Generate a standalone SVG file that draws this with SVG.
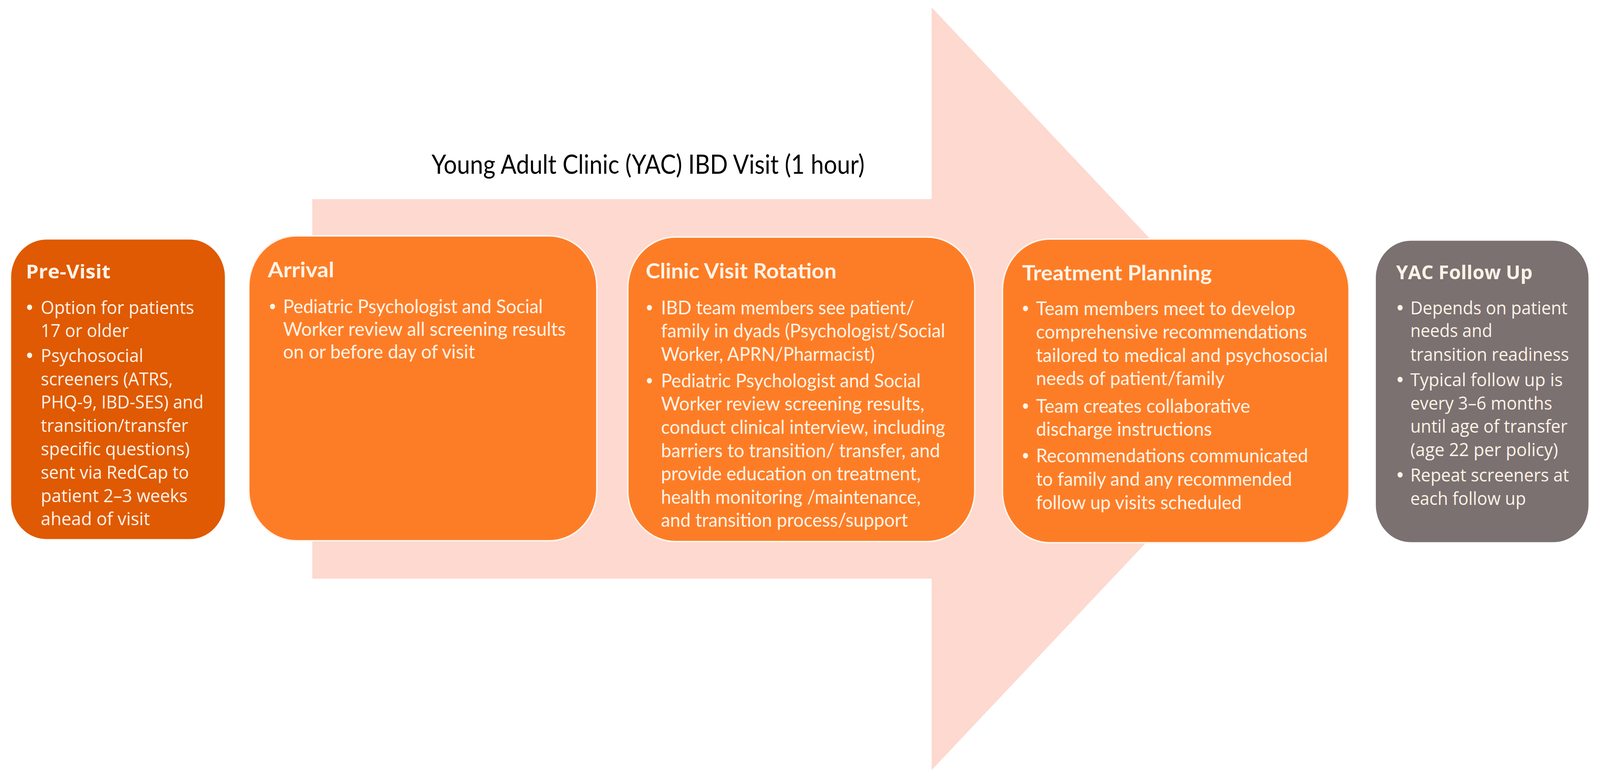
<svg xmlns="http://www.w3.org/2000/svg" width="4386" height="1995" viewBox="0 0 4386 1995" preserveAspectRatio="none">
<style>
svg{width:100vw;height:100vh;display:block}
.bg{fill:#ffffff}
.arrow{fill:#FDD9CF}
.orange{fill:#FD7D27;stroke:#FFF3EC;stroke-width:4}
.dark{fill:#DF5A03;stroke:#FFFFFF;stroke-width:3}
.grey{fill:#7B7171;stroke:#FFFFFF;stroke-width:3}
.cal{font-family:Lato,"Liberation Sans",sans-serif;font-size:48px;fill:#FFF4E8}
.calb{font-family:Lato,"Liberation Sans",sans-serif;font-size:53px;font-weight:bold;fill:#FFF4E8}
.seg{font-family:"Open Sans","Noto Sans","Liberation Sans",sans-serif;font-size:45px;fill:#FFF2E6}
.segb{font-family:"Open Sans","Noto Sans","Liberation Sans",sans-serif;font-size:49px;font-weight:bold;fill:#FFF2E6}
.bul{font-family:"Liberation Sans",sans-serif;font-size:52px;fill:#FFF4E8}
.ttl{font-family:Lato,"Liberation Sans",sans-serif;font-size:68px;fill:#000000}
</style>
<rect class="bg" x="0" y="0" width="4386" height="1995"/>
<g id="connectors">
<polygon class="arrow" points="856,510 2554,510 2554,19 3540,995 2554,1972 2554,1482 856,1482"/>
</g>
<g id="title">
<text class="ttl" x="1183" y="445" textLength="1187" lengthAdjust="spacingAndGlyphs">Young Adult Clinic (YAC) IBD Visit (1 hour)</text>
</g>
<g id="pre-visit">
<rect class="dark" x="29" y="612" width="589" height="770" rx="98" ry="98"/>
<text class="segb" x="71" y="713" textLength="232" lengthAdjust="spacingAndGlyphs">Pre-Visit</text>
<text class="bul" x="72" y="804">•</text>
<text class="bul" x="72" y="927">•</text>
<text class="seg" x="112" y="804" textLength="420" lengthAdjust="spacingAndGlyphs">Option for patients</text>
<text class="seg" x="112" y="863" textLength="241" lengthAdjust="spacingAndGlyphs">17 or older</text>
<text class="seg" x="112" y="927" textLength="281" lengthAdjust="spacingAndGlyphs">Psychosocial</text>
<text class="seg" x="112" y="987" textLength="362" lengthAdjust="spacingAndGlyphs">screeners (ATRS,</text>
<text class="seg" x="112" y="1046" textLength="446" lengthAdjust="spacingAndGlyphs">PHQ-9, IBD-SES) and</text>
<text class="seg" x="112" y="1106" textLength="404" lengthAdjust="spacingAndGlyphs">transition/transfer</text>
<text class="seg" x="112" y="1166" textLength="408" lengthAdjust="spacingAndGlyphs">specific questions)</text>
<text class="seg" x="112" y="1226" textLength="406" lengthAdjust="spacingAndGlyphs">sent via RedCap to</text>
<text class="seg" x="112" y="1286" textLength="402" lengthAdjust="spacingAndGlyphs">patient 2–3 weeks</text>
<text class="seg" x="112" y="1345" textLength="299" lengthAdjust="spacingAndGlyphs">ahead of visit</text>
</g>
<g id="arrival">
<rect class="orange" x="682" y="604" width="954" height="781" rx="130" ry="130"/>
<text class="calb" x="734" y="710" textLength="182" lengthAdjust="spacingAndGlyphs">Arrival</text>
<text class="bul" x="738" y="802">•</text>
<text class="cal" x="776" y="802" textLength="712" lengthAdjust="spacingAndGlyphs">Pediatric Psychologist and Social</text>
<text class="cal" x="776" y="860" textLength="775" lengthAdjust="spacingAndGlyphs">Worker review all screening results</text>
<text class="cal" x="776" y="918" textLength="526" lengthAdjust="spacingAndGlyphs">on or before day of visit</text>
</g>
<g id="clinic-visit-rotation">
<rect class="orange" x="1721" y="607" width="951" height="780" rx="130" ry="130"/>
<text class="calb" x="1770" y="713" textLength="523" lengthAdjust="spacingAndGlyphs">Clinic Visit Rotation</text>
<text class="bul" x="1771" y="805">•</text>
<text class="bul" x="1771" y="992">•</text>
<text class="cal" x="1812" y="805" textLength="694" lengthAdjust="spacingAndGlyphs">IBD team members see patient/</text>
<text class="cal" x="1812" y="864" textLength="779" lengthAdjust="spacingAndGlyphs">family in dyads (Psychologist/Social</text>
<text class="cal" x="1812" y="924" textLength="586" lengthAdjust="spacingAndGlyphs">Worker, APRN/Pharmacist)</text>
<text class="cal" x="1812" y="992" textLength="712" lengthAdjust="spacingAndGlyphs">Pediatric Psychologist and Social</text>
<text class="cal" x="1812" y="1051" textLength="722" lengthAdjust="spacingAndGlyphs">Worker review screening results,</text>
<text class="cal" x="1812" y="1111" textLength="779" lengthAdjust="spacingAndGlyphs">conduct clinical interview, including</text>
<text class="cal" x="1812" y="1171" textLength="765" lengthAdjust="spacingAndGlyphs">barriers to transition/ transfer, and</text>
<text class="cal" x="1812" y="1230" textLength="712" lengthAdjust="spacingAndGlyphs">provide education on treatment,</text>
<text class="cal" x="1812" y="1290" textLength="712" lengthAdjust="spacingAndGlyphs">health monitoring /maintenance,</text>
<text class="cal" x="1812" y="1349" textLength="677" lengthAdjust="spacingAndGlyphs">and transition process/support</text>
</g>
<g id="treatment-planning">
<rect class="orange" x="2748" y="612" width="950" height="778" rx="130" ry="130"/>
<text class="calb" x="2802" y="718" textLength="520" lengthAdjust="spacingAndGlyphs">Treatment Planning</text>
<text class="bul" x="2802" y="807">•</text>
<text class="bul" x="2802" y="1057">•</text>
<text class="bul" x="2802" y="1184">•</text>
<text class="cal" x="2840" y="807" textLength="711" lengthAdjust="spacingAndGlyphs">Team members meet to develop</text>
<text class="cal" x="2840" y="867" textLength="743" lengthAdjust="spacingAndGlyphs">comprehensive recommendations</text>
<text class="cal" x="2840" y="927" textLength="800" lengthAdjust="spacingAndGlyphs">tailored to medical and psychosocial</text>
<text class="cal" x="2840" y="986" textLength="517" lengthAdjust="spacingAndGlyphs">needs of patient/family</text>
<text class="cal" x="2840" y="1057" textLength="587" lengthAdjust="spacingAndGlyphs">Team creates collaborative</text>
<text class="cal" x="2840" y="1116" textLength="482" lengthAdjust="spacingAndGlyphs">discharge instructions</text>
<text class="cal" x="2840" y="1184" textLength="746" lengthAdjust="spacingAndGlyphs">Recommendations communicated</text>
<text class="cal" x="2840" y="1244" textLength="702" lengthAdjust="spacingAndGlyphs">to family and any recommended</text>
<text class="cal" x="2840" y="1304" textLength="564" lengthAdjust="spacingAndGlyphs">follow up visits scheduled</text>
</g>
<g id="yac-follow-up">
<rect class="grey" x="3770" y="615" width="586" height="775" rx="97" ry="97"/>
<text class="segb" x="3827" y="715" textLength="374" lengthAdjust="spacingAndGlyphs">YAC Follow Up</text>
<text class="bul" x="3829" y="805">•</text>
<text class="bul" x="3829" y="989">•</text>
<text class="bul" x="3829" y="1233">•</text>
<text class="seg" x="3866" y="805" textLength="431" lengthAdjust="spacingAndGlyphs">Depends on patient</text>
<text class="seg" x="3866" y="863" textLength="225" lengthAdjust="spacingAndGlyphs">needs and</text>
<text class="seg" x="3866" y="924" textLength="435" lengthAdjust="spacingAndGlyphs">transition readiness</text>
<text class="seg" x="3866" y="989" textLength="418" lengthAdjust="spacingAndGlyphs">Typical follow up is</text>
<text class="seg" x="3866" y="1049" textLength="389" lengthAdjust="spacingAndGlyphs">every 3–6 months</text>
<text class="seg" x="3866" y="1108" textLength="431" lengthAdjust="spacingAndGlyphs">until age of transfer</text>
<text class="seg" x="3866" y="1168" textLength="405" lengthAdjust="spacingAndGlyphs">(age 22 per policy)</text>
<text class="seg" x="3866" y="1233" textLength="435" lengthAdjust="spacingAndGlyphs">Repeat screeners at</text>
<text class="seg" x="3866" y="1293" textLength="317" lengthAdjust="spacingAndGlyphs">each follow up</text>
</g>
</svg>
